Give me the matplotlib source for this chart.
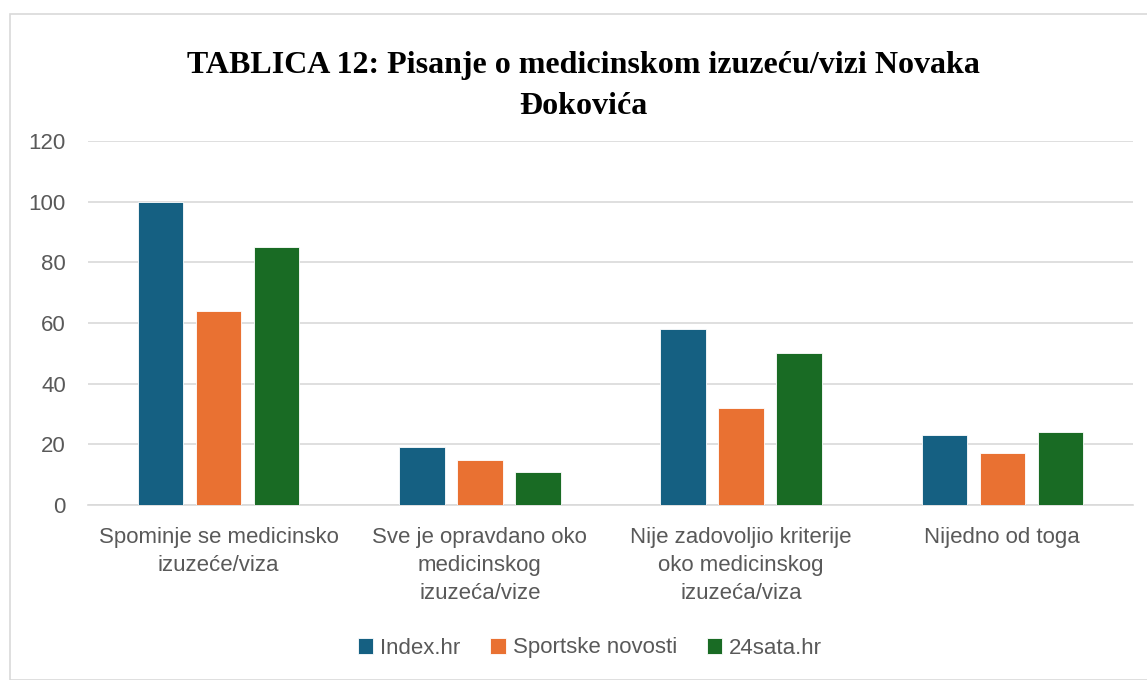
import numpy as np
import matplotlib
matplotlib.use("Agg")
import matplotlib.pyplot as plt
from matplotlib.patches import Rectangle

categories = [
    "Spominje se medicinsko\nizuzeće/viza",
    "Sve je opravdano oko\nmedicinskog\nizuzeća/vize",
    "Nije zadovoljio kriterije\noko medicinskog\nizuzeća/viza",
    "Nijedno od toga",
]
series_names = ["Index.hr", "Sportske novosti", "24sata.hr"]
index_hr = [100, 19, 58, 23]
sportske = [64, 15, 32, 17]
sata24 = [85, 11, 50, 24]
yticks = [0, 20, 40, 60, 80, 100, 120]

colors = ["#156082", "#E97132", "#196B24"]
text_col = "#595959"
sans = ["Liberation Sans", "DejaVu Sans"]

fig = plt.figure(figsize=(11.47, 6.80), dpi=100)
fig.patches.append(Rectangle((10 / 1147, 0), 1.2, 1 - 14 / 680, transform=fig.transFigure,
                             fill=False, edgecolor="#D9D9D9", linewidth=1.2))

ax = fig.add_axes([88 / 1147, 1 - 505 / 680, (1133 - 88) / 1147, (505 - 141) / 680])

x = np.arange(len(categories))
width = 0.174
step = 0.222
for i, (vals, name) in enumerate(zip([index_hr, sportske, sata24], series_names)):
    ax.bar(x + (i - 1) * step, vals, width, color=colors[i], label=name,
           edgecolor="white", linewidth=0.6, zorder=3)

ax.set_xlim(-0.5, len(categories) - 0.5)
ax.set_ylim(0, 120)
ax.set_yticks(yticks)
ax.set_yticklabels([str(v) for v in yticks], family=sans, fontsize=16, color=text_col)
ax.set_xticks(x)
ax.set_xticklabels(categories, family=sans, fontsize=16, color=text_col, linespacing=1.43)
ax.tick_params(axis="both", length=0)
ax.tick_params(axis="y", pad=16)
ax.tick_params(axis="x", pad=16)
ax.grid(axis="y", color="#D9D9D9", linewidth=1.2, zorder=0)
for side in ["top", "right", "left"]:
    ax.spines[side].set_visible(False)
ax.spines["bottom"].set_color("#D9D9D9")
ax.spines["bottom"].set_linewidth(1.2)

fig.text(583 / 1147, 1 - 86 / 680, "TABLICA 12: Pisanje o medicinskom izuzeću/vizi Novaka\nĐokovića",
         ha="center", va="center", family=["Liberation Serif", "DejaVu Serif"],
         fontweight="bold", fontsize=23, linespacing=1.5)

fig.legend(loc="center", bbox_to_anchor=(590 / 1147, 1 - 648 / 680), ncol=3,
           frameon=False, prop={"family": sans, "size": 16},
           labelcolor=text_col, handlelength=0.7, handleheight=0.7,
           handletextpad=0.3, columnspacing=1.35)

fig.savefig("out.png", dpi=100)
